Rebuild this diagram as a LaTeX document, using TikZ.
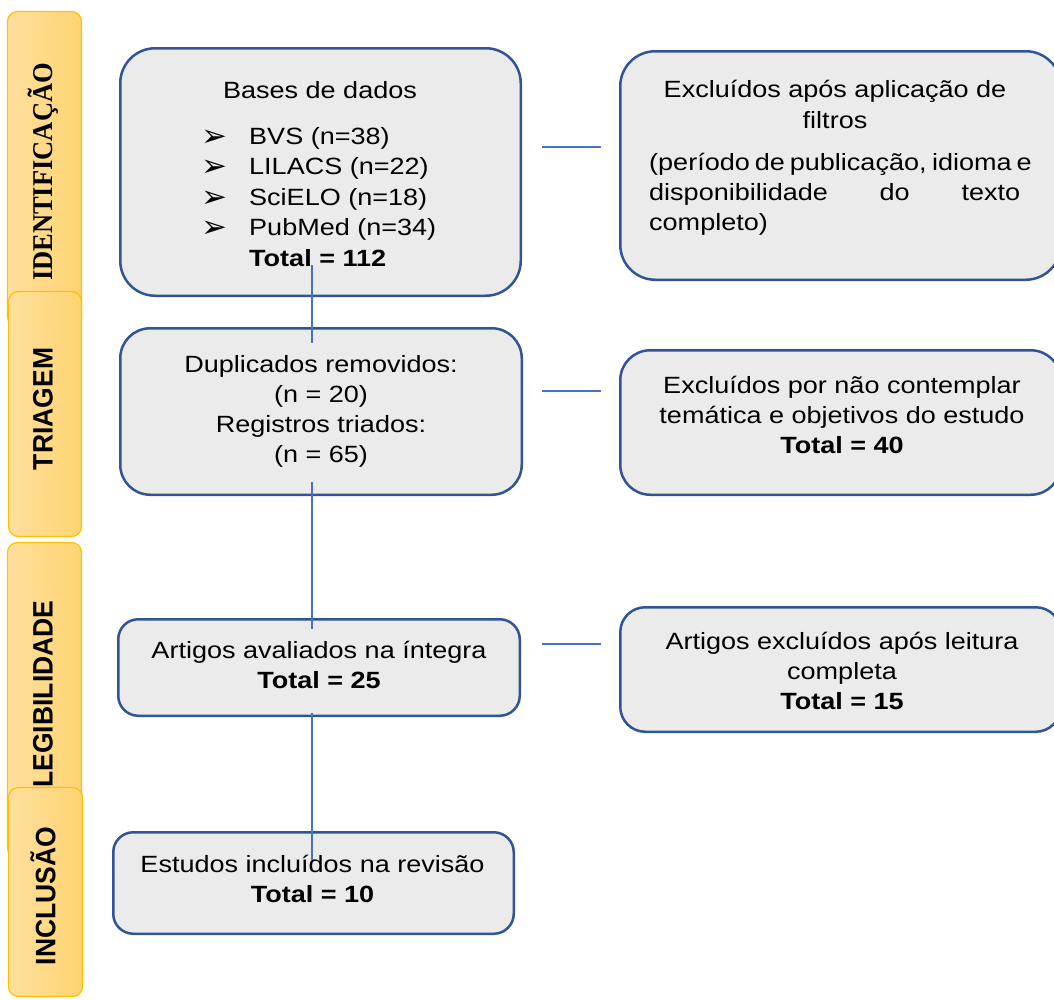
\documentclass[tikz,border=0pt]{standalone}
\usepackage{graphicx}
\usepackage{fontspec}
\setmainfont{Liberation Sans}[FakeStretch=1.15]
\newfontfamily\tabsans{Liberation Sans}
\newfontfamily\tabserif{Liberation Serif}
\newfontfamily\dejavu{DejaVu Sans}
\usetikzlibrary{calc}
\definecolor{boxfill}{HTML}{EBEBEB}
\definecolor{boxline}{HTML}{2F5597}
\definecolor{conn}{HTML}{4472C4}
\definecolor{tabline}{HTML}{FFC000}
\definecolor{tabL}{HTML}{FFDF9E}
\definecolor{tabR}{HTML}{FFD471}
\newcommand{\mlines}[1]{\begin{tabular}[t]{@{}c@{}}#1\end{tabular}}
\begin{document}
\begin{tikzpicture}[x=1pt,y=-1pt,
  box/.style={draw=boxline, line width=2.5pt, fill=boxfill, inner sep=0pt},
  tabbox/.style={draw=tabline, line width=1.2pt, left color=tabL, right color=tabR, rounded corners=10pt, inner sep=0pt},
  tablabel/.style={rotate=90, inner sep=0pt, font=\tabsans\bfseries\fontsize{26.5}{30}\selectfont},
  txt/.style={inner sep=0pt, anchor=base, font=\fontsize{23.5}{30}\selectfont},
  conline/.style={draw=conn, line width=1.5pt}]
\useasboundingbox (0,0) rectangle (1054,999);

% side tabs
\node[tabbox, minimum width=74pt, minimum height=315pt] (t1) at (44.5,169) {};
\node[tablabel, font=\tabserif\bfseries\fontsize{26.5}{30}\selectfont] (t1l) at (43,172) {\scalebox{1}[1.08]{IDENTIFICAÇÃO}};
\node[tabbox, minimum width=73pt, minimum height=245pt] (t2) at (45,414) {};
\node[tablabel] (t2l) at (43,409) {\scalebox{1}[1.06]{TRIAGEM}};
\node[tabbox, minimum width=74pt, minimum height=315pt] (t3) at (44.5,700) {};
\node[tablabel] (t3l) at (43,694) {\scalebox{1}[1.06]{LEGIBILIDADE}};
\node[tabbox, minimum width=74pt, minimum height=209pt] (t4) at (45.5,892) {};
\node[tablabel] (t4l) at (43,896) {\scalebox{1}[1.06]{INCLUSÃO}};

% main boxes
\node[box, rounded corners=35pt, minimum width=400.5pt, minimum height=247.5pt] (b1) at (320.5,172) {};
\node[box, rounded corners=35pt, minimum width=440.5pt, minimum height=228.5pt] (r1) at (840.5,165.5) {};
\node[box, rounded corners=30pt, minimum width=401.5pt, minimum height=166.5pt] (b2) at (321,411.5) {};
\node[box, rounded corners=30pt, minimum width=440.5pt, minimum height=144.5pt] (r2) at (840.5,422.5) {};
\node[box, rounded corners=20pt, minimum width=401.5pt, minimum height=96.5pt] (b3) at (319,667.5) {};
\node[box, rounded corners=25pt, minimum width=440.5pt, minimum height=124.5pt] (r3) at (840.5,669.5) {};
\node[box, rounded corners=20pt, minimum width=400.5pt, minimum height=101.5pt] (b4) at (313.5,883) {};

% texts
\node[txt] (b1title) at (320,98) {Bases de dados};
\node[txt, anchor=base west, font=\dejavu\fontsize{31}{30.5}\selectfont] (b1arr) at (201,146)
  {\begin{tabular}[t]{@{}l@{}}➢\\➢\\➢\\➢\end{tabular}};
\node[txt, anchor=base west, font=\fontsize{23.5}{30.5}\selectfont] (b1list) at (249,144)
  {\begin{tabular}[t]{@{}l@{}}BVS (n=38)\\LILACS (n=22)\\SciELO (n=18)\\PubMed (n=34)\\\textbf{Total = 112}\end{tabular}};

\node[txt, font=\fontsize{23.5}{31}\selectfont] (r1head) at (835,97) {\mlines{Excluídos após aplicação de\\filtros}};
\node[txt, anchor=base west] (r1para) at (649,170)
  {\parbox[t]{371pt}{\makebox[371pt][s]{(período de publicação, idioma e}\\\makebox[371pt][s]{disponibilidade do texto}\\completo)}};

\node[txt] (b2text) at (321,372) {\mlines{Duplicados removidos:\\(n = 20)\\Registros triados:\\(n = 65)}};
\node[txt] (r2text) at (842,393) {\mlines{Excluídos por não contemplar\\temática e objetivos do estudo\\\textbf{Total = 40}}};
\node[txt] (b3text) at (319,658) {\mlines{Artigos avaliados na íntegra\\\textbf{Total = 25}}};
\node[txt] (r3text) at (842,649) {\mlines{Artigos excluídos após leitura\\completa\\\textbf{Total = 15}}};
\node[txt] (b4text) at (312.5,872) {\mlines{Estudos incluídos na revisão\\\textbf{Total = 10}}};

% connectors
\coordinate (v1a) at (312,265);
\coordinate (v1b) at (312,343);
\coordinate (v2a) at (312,482);
\coordinate (v2b) at (312,629);
\coordinate (v3a) at (312,713);
\coordinate (v3b) at (312,860);
\coordinate (h1a) at (542,147);
\coordinate (h1b) at (601,147);
\coordinate (h2a) at (542,391);
\coordinate (h2b) at (601,391);
\coordinate (h3a) at (542,644);
\coordinate (h3b) at (601,644);
\draw[conline] (v1a) -- (v1b);
\draw[conline] (v2a) -- (v2b);
\draw[conline] (v3a) -- (v3b);
\draw[conline] (h1a) -- (h1b);
\draw[conline] (h2a) -- (h2b);
\draw[conline] (h3a) -- (h3b);
\end{tikzpicture}
\end{document}
